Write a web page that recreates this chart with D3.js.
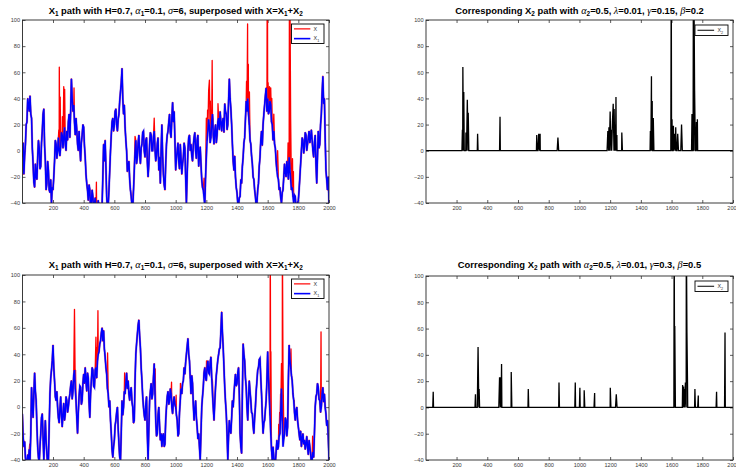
<!DOCTYPE html>
<html>
<head>
<meta charset="utf-8">
<script src="https://cdn.jsdelivr.net/npm/d3@7"></script>
<style>
  body { margin: 0; background: #fff; }
  svg { display: block; }
  .tick text { fill: #3a3a3a; font-family: "Liberation Sans", Arial, sans-serif; font-size: 5.6px; }
  .tick line { stroke: #333; stroke-width: 0.8; }
</style>
</head>
<body>
<svg id="fig" width="736" height="474"></svg>
<script>
'use strict';

// time grid shared by the X1 paths (every 5 steps)
var step = 5;
var xTicks = [200, 400, 600, 800, 1000, 1200, 1400, 1600, 1800, 2000];
var yTicks = [-40, -20, 0, 20, 40, 60, 80, 100];

// X1, first run (H=0.7, alpha1=0.1, sigma=6); one row per 100 steps
var x1Top = [
  -5, 6, -18, -4, 5, 20, 22, 40, 35, 30, 42, 28, 25, 2, -10, -24, -28, -10, -20, -22,
  -5, 8, 2, -14, -12, 6, 15, 28, 32, 4, -8, -30, -25, -8, -15, -30, -32, -22, -40, -28,
  -30, -20, -8, 8, 5, -6, 0, 10, 0, -4, 3, 14, 12, 2, 10, 18, 5, 0, 15, 8,
  22, 28, 10, 30, 55, 40, 30, 35, 22, 12, 25, 16, 5, 0, 15, 2, -8, 6, 12, 20,
  18, 4, -5, -18, -25, -30, -38, -26, -30, -44, -40, -30, -35, -46, -42, -36, -45, -50, -45, -38,
  -48, -40, -44, -50, -42, -20, 5, -8, 8, -12, -35, -44, -42, -30, -15, 0, 12, 22, 25, 15,
  20, 30, 32, 20, 15, 24, 28, 38, 45, 52, 63, 40, 28, 35, 18, 8, 0, -16, -12, -8,
  -22, -30, -35, -42, -45, -30, -15, -2, 8, -10, -5, 6, 12, -2, -10, 2, 5, 14, 15, 0,
  -5, 8, 10, -8, -20, -10, 5, 14, 12, 0, 0, 10, 15, 2, -8, -4, 5, 10, -15, -5,
  -25, 0, 20, -4, -18, -26, -30, -10, 5, 12, 15, 22, 28, 14, 10, 25, 37, 22, 30, 8,
  -15, -6, 0, 6, -8, -14, 5, -6, -18, -10, -5, 6, 2, -20, -40, -18, 0, 10, 12, 0,
  5, -4, -8, 4, 10, 14, 0, -6, 8, 12, -12, -4, 3, -10, -22, -28, -30, -36, -42, -20,
  -5, 8, 15, 24, 18, 6, 10, 22, 28, 12, 5, 15, 20, 6, 12, 22, 25, 16, 30, 22,
  15, 22, 25, 14, 36, 30, 28, 16, 20, 38, 55, 40, 32, 20, 5, -8, -15, -4, -20, -28,
  -32, -40, -42, -36, -35, -22, -25, -12, -5, 6, 10, 24, 38, 30, 40, 28, 20, 8, 5, -4,
  -10, -20, -22, -30, -35, -42, -40, -30, -25, -12, -5, 8, 15, 4, 20, 28, 35, 42, 48, 30,
  40, 28, 30, 38, 35, 22, 20, 8, 15, 5, 2, -8, -15, -20, -22, -30, -28, -36, -40, -32,
  -30, -20, -10, -16, -20, -8, -15, -22, -5, -14, -22, -30, -28, -35, -40, -34, -35, -44, -42, -40,
  -38, -30, -20, -10, 0, 10, 8, -2, 3, 14, 12, 0, 5, 10, 15, 6, 10, 16, 8, 0,
  -5, 6, 12, -10, -25, -4, 15, 2, 5, 20, 28, 44, 57, 36, 40, 10, -15, -22, -30, -20,
  -40
];

// X2 jumps, first run (alpha2=0.5, lambda=0.01, gamma=0.15, beta=0.2): [time, value]
var x2TopJumps = [
  [238, 16], [241, 64], [247, 45], [261, 14], [270, 39], [276, 29], [337, 13],
  [483, 26], [722, 12], [735, 13], [744, 13], [860, 10],
  [1185, 15], [1192, 18], [1200, 30], [1208, 16], [1215, 22], [1220, 36],
  [1226, 32], [1232, 20], [1238, 41], [1244, 12], [1276, 14],
  [1462, 15], [1469, 57], [1474, 38], [1481, 25],
  [1598, 140], [1603, 24], [1612, 19], [1620, 13], [1627, 18], [1640, 13], [1665, 20],
  [1733, 28], [1742, 140], [1746, 120], [1750, 46], [1762, 22], [1768, 24]
];

// X1, second run
var x1Bottom = [
  -5, -22, -30, -26, -38, -44, -42, -36, -40, -32, -40, -20, 15, 2, -8, 10, 26, 12, 5, -14,
  -30, -38, -42, -30, -20, -8, -5, -22, -40, -24, -10, -26, -35, -44, -40, -15, 10, 22, 28, 35,
  47, 30, 20, 8, 5, 12, 0, -8, -12, -2, 8, -6, -15, -5, 3, -10, -5, 8, 5, -4,
  0, 6, 10, 16, 20, 6, 12, 24, 28, 14, 5, -8, -20, -4, 8, 16, 15, 2, 5, 18,
  25, 18, 30, 20, 12, 26, 22, 4, -8, 10, 20, 30, 28, 16, 15, 28, 30, 22, 35, 40,
  42, 48, 50, 56, 60, 50, 58, 44, 38, 30, 25, 14, 10, 0, 5, -10, -20, -32, -38, -30,
  -25, -14, -10, -4, 0, -16, -28, -38, -40, -20, 5, -6, 0, 12, 10, 18, 26, 14, 20, 10,
  5, 12, 15, 4, 0, -12, -10, 20, 40, 48, 55, 62, 66, 54, 45, 30, 20, 8, 0, -6,
  -10, 2, 8, -20, -40, -16, 5, 12, 18, 6, 10, 22, 33, 10, -10, -22, -20, -6, 0, -14,
  -25, -20, -30, -22, -20, -30, -28, -10, 0, 8, 12, 2, 5, 14, 10, 0, -5, 4, 8, 2,
  0, -6, -10, -22, -20, -4, 5, 14, 10, 18, 20, 30, 25, 34, 40, 46, 52, 40, 35, 22,
  10, 24, 18, 2, -10, -2, 5, -8, -15, -24, -20, -30, -40, -20, 0, 8, 15, 26, 30, 22,
  20, 30, 35, 26, 25, 34, 38, 22, 10, 0, -10, 4, 15, 24, 30, 36, 40, 44, 45, 58,
  72, 56, 45, 30, 15, 4, -5, -20, -40, -22, -10, -18, -20, -8, 5, 0, 10, 18, 25, 16,
  18, 26, 30, 10, -20, -30, -35, 10, 48, 40, 35, 22, 15, 0, -10, 6, 20, 12, 5, -4,
  -5, -14, -20, -8, 0, 12, 20, 28, 30, 36, 37, 22, 10, -6, -20, -12, -10, -2, 5, 20,
  42, 22, 10, -6, -20, -32, -40, -30, -38, -44, -42, -34, -25, -32, -30, -22, -20, -4, 14, -10,
  -30, -24, -20, -8, -10, -22, -15, 20, 47, 36, 30, 24, 20, 10, 5, -4, -10, -2, 0, -10,
  -15, -20, -25, -18, -30, -24, -20, -28, -25, -32, -28, -22, -30, -36, -25, -30, -35, -42, -40, -34,
  -38, -20, 0, 8, 10, 18, 15, 6, 5, -4, 0, 10, 15, 4, 10, 0, -5, -14, -10, -22,
  -40
];

// X2 jumps, second run (gamma=0.3, beta=0.5)
var x2BottomJumps = [
  [48, 12], [323, 10], [340, 46], [347, 14], [480, 23], [486, 23], [493, 33],
  [556, 27], [667, 14], [867, 19], [973, 19], [1003, 15], [1031, 13], [1099, 11],
  [1201, 15], [1240, 10], [1617, 140], [1621, 62],
  [1672, 17], [1678, 16], [1684, 14], [1690, 19], [1696, 140], [1700, 58], [1704, 17],
  [1752, 14], [1774, 9], [1893, 12], [1948, 57]
];

var titleLeft = [["X", "n"], ["1", "s"], [" path with H=0.7, ", "n"], ["\u03b1", "g"], ["1", "s"],
  ["=0.1, ", "n"], ["\u03c3", "g"], ["=6, superposed with X=X", "n"], ["1", "s"], ["+X", "n"], ["2", "s"]];
var titleRightTop = [["Corresponding X", "n"], ["2", "s"], [" path with ", "n"], ["\u03b1", "g"], ["2", "s"],
  ["=0.5, ", "n"], ["\u03bb", "g"], ["=0.01, ", "n"], ["\u03b3", "g"], ["=0.15, ", "n"], ["\u03b2", "g"], ["=0.2", "n"]];
var titleRightBottom = [["Corresponding X", "n"], ["2", "s"], [" path with ", "n"], ["\u03b1", "g"], ["2", "s"],
  ["=0.5, ", "n"], ["\u03bb", "g"], ["=0.01, ", "n"], ["\u03b3", "g"], ["=0.3, ", "n"], ["\u03b2", "g"], ["=0.5", "n"]];

var svg = d3.select('#fig');

// X2 path: zero between jumps, sampled every 5 steps
function x2Series(jumps) {
  var byTime = new Map(jumps.map(function(j) { return [j[0], j[1]]; }));
  var times = d3.range(0, 2001, 5).concat(jumps.map(function(j) { return j[0]; }));
  times = Array.from(new Set(times)).sort(d3.ascending);
  return times.map(function(t) { return [t, byTime.has(t) ? byTime.get(t) : 0]; });
}

// X = X1 + X2, X1 held at its nearest grid value at jump times
function xSeries(x1, jumps) {
  var byTime = new Map(jumps.map(function(j) { return [j[0], j[1]]; }));
  var times = d3.range(0, 2001, step).concat(jumps.map(function(j) { return j[0]; }));
  times = Array.from(new Set(times)).sort(d3.ascending);
  return times.map(function(t) {
    var base = x1[Math.min(x1.length - 1, Math.round(t / step))];
    return [t, base + (byTime.has(t) ? byTime.get(t) : 0)];
  });
}

function drawTitle(parts, cx, y) {
  var t = svg.append('text')
    .attr('x', cx).attr('y', y)
    .attr('text-anchor', 'middle')
    .style('font-family', '"Liberation Sans", Arial, sans-serif')
    .style('font-size', '9.4px')
    .style('font-weight', 'bold')
    .attr('fill', '#000');
  var shift = 0;
  parts.forEach(function(p) {
    var s = t.append('tspan').text(p[0]);
    var want = p[1] === 's' ? 2.8 : 0;
    if (want !== shift) { s.attr('dy', want - shift); shift = want; }
    if (p[1] === 's') s.style('font-size', '6.4px');
    if (p[1] === 'g') s.style('font-family', '"Liberation Serif", serif').style('font-style', 'italic').style('font-weight', 'normal').style('font-size', '10.2px');
  });
}

function makePanel(id, box) {
  var x = d3.scaleLinear().domain([1, 2000]).range([box.x0, box.x1]);
  var y = d3.scaleLinear().domain([-40, 100]).range([box.y1, box.y0]);
  var g = svg.append('g');
  var fmt = d3.format('d');

  svg.append('clipPath').attr('id', 'clip' + id)
    .append('rect').attr('x', box.x0).attr('y', box.y0)
    .attr('width', box.x1 - box.x0).attr('height', box.y1 - box.y0);

  g.append('g').attr('transform', 'translate(0,' + box.y1 + ')')
    .call(d3.axisBottom(x).tickValues(xTicks).tickFormat(fmt).tickSizeInner(-3).tickSizeOuter(0).tickPadding(3))
    .call(function(a) { a.select('.domain').remove(); });
  g.append('g').attr('transform', 'translate(0,' + box.y0 + ')')
    .call(d3.axisTop(x).tickValues(xTicks).tickSizeInner(-3).tickSizeOuter(0).tickFormat(''))
    .call(function(a) { a.select('.domain').remove(); });
  g.append('g').attr('transform', 'translate(' + box.x0 + ',0)')
    .call(d3.axisLeft(y).tickValues(yTicks).tickFormat(fmt).tickSizeInner(-3).tickSizeOuter(0).tickPadding(2.5))
    .call(function(a) { a.select('.domain').remove(); });
  g.append('g').attr('transform', 'translate(' + box.x1 + ',0)')
    .call(d3.axisRight(y).tickValues(yTicks).tickSizeInner(-3).tickSizeOuter(0).tickFormat(''))
    .call(function(a) { a.select('.domain').remove(); });

  var plot = svg.append('g').attr('clip-path', 'url(#clip' + id + ')');
  return { x: x, y: y, g: g, plot: plot, box: box };
}

function frame(p) {
  svg.append('rect')
    .attr('x', p.box.x0).attr('y', p.box.y0)
    .attr('width', p.box.x1 - p.box.x0).attr('height', p.box.y1 - p.box.y0)
    .attr('fill', 'none').attr('stroke', '#262626').attr('stroke-width', 0.9);
}

function legend(lx, ly, w, h, items) {
  var lg = svg.append('g');
  lg.append('rect').attr('x', lx).attr('y', ly).attr('width', w).attr('height', h)
    .attr('fill', '#fff').attr('stroke', '#000').attr('stroke-width', 0.9);
  items.forEach(function(it, i) {
    var yy = ly + (h / items.length) * (i + 0.5);
    lg.append('line').attr('x1', lx + 2.5).attr('x2', lx + w * 0.58)
      .attr('y1', yy).attr('y2', yy)
      .attr('stroke', it.color).attr('stroke-width', it.width);
    var t = lg.append('text').attr('x', lx + w * 0.68).attr('y', yy + 1.8)
      .style('font-family', '"Liberation Sans", Arial, sans-serif').style('font-size', '5.4px')
      .attr('fill', '#333').text(it.label);
    if (it.sub) t.append('tspan').attr('dy', 1.6).style('font-size', '3.8px').text(it.sub);
  });
}

function leftPanel(id, box, x1, jumps, titleY) {
  var p = makePanel(id, box);
  var line = d3.line().x(function(d) { return p.x(d[0]); }).y(function(d) { return p.y(d[1]); });
  var blue = x1.map(function(v, i) { return [i * step, v]; });
  p.plot.append('path').datum(xSeries(x1, jumps)).attr('d', line)
    .attr('fill', 'none').attr('stroke', '#ff0000').attr('stroke-width', 1.3).attr('stroke-linejoin', 'round');
  p.plot.append('path').datum(blue).attr('d', line)
    .attr('fill', 'none').attr('stroke', '#7a4bd0').attr('stroke-width', 2.3).attr('stroke-opacity', 0.5);
  p.plot.append('path').datum(blue).attr('d', line)
    .attr('fill', 'none').attr('stroke', '#0000ff').attr('stroke-width', 1.5);
  frame(p);
  drawTitle(titleLeft, (box.x0 + box.x1) / 2, titleY);
  legend(box.x1 - 37.5, box.y0 + 4, 32.5, 19.5, [
    { color: '#ff0000', width: 1.2, label: 'X' },
    { color: '#0000ff', width: 1.6, label: 'X', sub: '1' }
  ]);
}

function rightPanel(id, box, jumps, title, titleY) {
  var p = makePanel(id, box);
  var line = d3.line().x(function(d) { return p.x(d[0]); }).y(function(d) { return p.y(d[1]); });
  p.plot.append('path').datum(x2Series(jumps)).attr('d', line)
    .attr('fill', 'none').attr('stroke', '#000').attr('stroke-width', 1.3);
  frame(p);
  drawTitle(title, (box.x0 + box.x1) / 2, titleY);
  legend(box.x1 - 38, box.y0 + 5, 33, 10.5, [
    { color: '#000', width: 1, label: 'X', sub: '2' }
  ]);
}

leftPanel('a', { x0: 22.5, x1: 329, y0: 20, y1: 203 }, x1Top, x2TopJumps, 13.5);
rightPanel('b', { x0: 426, x1: 733, y0: 20, y1: 203 }, x2TopJumps, titleRightTop, 13.5);
leftPanel('c', { x0: 22.5, x1: 329, y0: 275, y1: 460 }, x1Bottom, x2BottomJumps, 267.5);
rightPanel('d', { x0: 426, x1: 733, y0: 276, y1: 460 }, x2BottomJumps, titleRightBottom, 267.5);
</script>
</body>
</html>
